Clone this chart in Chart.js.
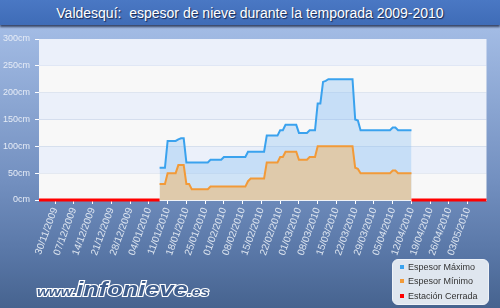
<!DOCTYPE html>
<html><head><meta charset="utf-8">
<script src="https://cdn.jsdelivr.net/npm/chart.js@4/dist/chart.umd.min.js"></script>
<style>
html,body{margin:0;padding:0;}
body{width:500px;height:308px;overflow:hidden;position:relative;background:linear-gradient(to bottom,#a9c2ea 0px,#a2bbe4 30px,#7390c0 180px,#5a78a8 250px,#46638f 308px);font-family:"Liberation Sans",Arial,sans-serif;}
#titlebar{position:absolute;left:0;top:0;width:500px;height:25px;background:linear-gradient(to bottom,#4a78c4,#3f6cb7);box-shadow:0 2px 2px rgba(20,30,60,0.75);}
#title{position:absolute;left:0;top:5px;width:500px;text-align:center;color:#fff;font-size:14px;line-height:16px;text-shadow:1px 1px 1px #16264d;}
#c{position:absolute;left:0;top:0;}
#legend{position:absolute;left:392px;top:259px;width:97px;height:46px;border-radius:6px;background:#dfe6ef;border:1px solid #eef2f8;box-sizing:border-box;}
.li{position:absolute;left:0;width:95px;height:12px;font-size:9px;color:#333;line-height:12px;}
.li .m{position:absolute;left:7px;top:4px;width:4px;height:4px;}
.li .t{position:absolute;left:15px;top:0;white-space:nowrap;}
#logo{position:absolute;left:37px;top:278px;font-weight:bold;font-style:italic;color:#3d5c8c;-webkit-text-stroke:2px #ffffff;paint-order:stroke fill;white-space:nowrap;transform:scaleX(1.27);transform-origin:0 0;}
#logo .s{font-size:12px;}
#logo .b{font-size:20px;}
</style></head>
<body>
<div id="titlebar"></div>
<div id="title">Valdesquí:&nbsp; espesor de nieve durante la temporada 2009-2010</div>
<canvas id="c" width="500" height="308"></canvas>
<div id="legend"></div>
<div id="logo"><span class="s">www.</span><span class="b">infonieve</span><span class="s">.es</span></div>
<script>
const seasonStart = '24/11/2009';
const seasonEnd = '10/05/2010';
const tickLabels = ['30/11/2009','07/12/2009','14/12/2009','21/12/2009','28/12/2009','04/01/2010','11/01/2010','18/01/2010','25/01/2010','01/02/2010','08/02/2010','15/02/2010','22/02/2010','01/03/2010','08/03/2010','15/03/2010','22/03/2010','29/03/2010','05/04/2010','12/04/2010','19/04/2010','26/04/2010','03/05/2010'];
const yTicks = [0,50,100,150,200,250,300];

const maxDates = ['08/01/2010','10/01/2010','11/01/2010','14/01/2010','15/01/2010','16/01/2010','17/01/2010','18/01/2010','26/01/2010','27/01/2010','31/01/2010','01/02/2010','09/02/2010','10/02/2010','16/02/2010','17/02/2010','21/02/2010','22/02/2010','23/02/2010','24/02/2010','28/02/2010','01/03/2010','04/03/2010','05/03/2010','07/03/2010','08/03/2010','09/03/2010','10/03/2010','11/03/2010','12/03/2010','21/03/2010','22/03/2010','23/03/2010','24/03/2010','04/04/2010','05/04/2010','06/04/2010','07/04/2010','12/04/2010'];
const maxValues = [60,60,110,110,113,115,115,70,70,75,75,80,80,90,90,120,120,130,130,140,140,125,125,130,130,180,180,220,222,225,225,150,148,130,130,135,135,130,130];

const minDates = ['08/01/2010','10/01/2010','11/01/2010','14/01/2010','15/01/2010','17/01/2010','18/01/2010','19/01/2010','20/01/2010','26/01/2010','27/01/2010','09/02/2010','10/02/2010','11/02/2010','16/02/2010','17/02/2010','21/02/2010','22/02/2010','23/02/2010','24/02/2010','28/02/2010','01/03/2010','04/03/2010','05/03/2010','07/03/2010','08/03/2010','21/03/2010','22/03/2010','23/03/2010','24/03/2010','04/04/2010','05/04/2010','06/04/2010','07/04/2010','12/04/2010'];
const minValues = [30,30,50,50,65,65,30,30,20,20,25,25,35,40,40,70,70,80,80,90,90,75,75,80,80,100,100,60,58,50,50,55,55,50,50];

const closedFrom = ['24/11/2009','12/04/2010'];
const closedTo = ['08/01/2010','10/05/2010'];

const seriesNames = ['Espesor Máximo','Espesor Mínimo','Estación Cerrada'];
const seriesColors = ['#3aa2ee','#f29a38','#ff0000'];

function dayNum(s){const p=s.split('/').map(Number);return Date.UTC(p[2],p[1]-1,p[0])/86400000;}
const d0 = dayNum(seasonStart);
function dx(s){return dayNum(s)-d0;}

const maxData = maxDates.map((d,i)=>({x:dx(d),y:maxValues[i]}));
const minData = minDates.map((d,i)=>({x:dx(d),y:minValues[i]}));
const closedData = [];
closedFrom.forEach((d,i)=>{
  if(i>0) closedData.push({x:(dx(closedTo[i-1])+dx(d))/2,y:null});
  closedData.push({x:dx(d),y:0});
  closedData.push({x:dx(closedTo[i]),y:0});
});

const bands = {
  id:'bands',
  beforeDraw(chart){
    const {ctx,chartArea:a,scales:{y}}=chart;
    ctx.save();
    for(let i=0;i<yTicks.length-1;i++){
      const top=y.getPixelForValue(yTicks[i+1]), bot=y.getPixelForValue(yTicks[i]);
      ctx.fillStyle = (i%2===1)?'#ebf0fa':'#f8f8f8';
      ctx.fillRect(a.left,top,a.right-a.left,bot-top);
    }
    ctx.restore();
  }
};

new Chart(document.getElementById('c'),{
  type:'line',
  data:{datasets:[
    {label:seriesNames[0],data:maxData,borderColor:seriesColors[0],backgroundColor:'rgba(120,182,242,0.32)',fill:'origin',borderWidth:2,pointRadius:0,tension:0,order:3},
    {label:seriesNames[1],data:minData,borderColor:seriesColors[1],backgroundColor:'#dfcaab',fill:'origin',borderWidth:2,pointRadius:0,tension:0,order:2},
    {label:seriesNames[2],data:closedData,borderColor:seriesColors[2],borderWidth:3,pointRadius:0,spanGaps:false,fill:false,clip:false,order:1}
  ]},
  options:{
    responsive:false,animation:false,
    layout:{padding:{left:0,top:39,right:13.5,bottom:0}},
    plugins:{legend:{display:false},tooltip:{enabled:false}},
    scales:{
      x:{type:'linear',min:0,max:dx(seasonEnd),
        afterBuildTicks(s){s.ticks=tickLabels.map(l=>({value:dx(l)}));},
        afterFit(s){s.height=108;},
        ticks:{autoSkip:false,minRotation:70,maxRotation:70,padding:2,color:'#dde5f0',font:{family:'Liberation Sans',size:10},
          callback:(v,i)=>tickLabels[i]},
        grid:{drawOnChartArea:false,drawTicks:true,tickLength:4,color:'#ffffff'},
        border:{display:true,color:'rgba(255,255,255,0.9)'}
      },
      y:{min:0,max:300,
        afterBuildTicks(s){s.ticks=yTicks.map(v=>({value:v}));},
        afterFit(s){s.width=39;},
        ticks:{padding:5,color:'#e6ecf6',font:{family:'Liberation Sans',size:9},callback:v=>v+'cm'},
        grid:{drawOnChartArea:false,drawTicks:true,tickLength:4,color:'#ffffff'},
        border:{display:false}
      }
    }
  },
  plugins:[bands]
});

const lg=document.getElementById('legend');
seriesNames.forEach((n,i)=>{
  const r=document.createElement('div');r.className='li';r.style.top=(1+i*14.3)+'px';
  r.innerHTML='<span class="m" style="background:'+seriesColors[i]+'"></span><span class="t">'+n+'</span>';
  lg.appendChild(r);
});
</script>
</body></html>
